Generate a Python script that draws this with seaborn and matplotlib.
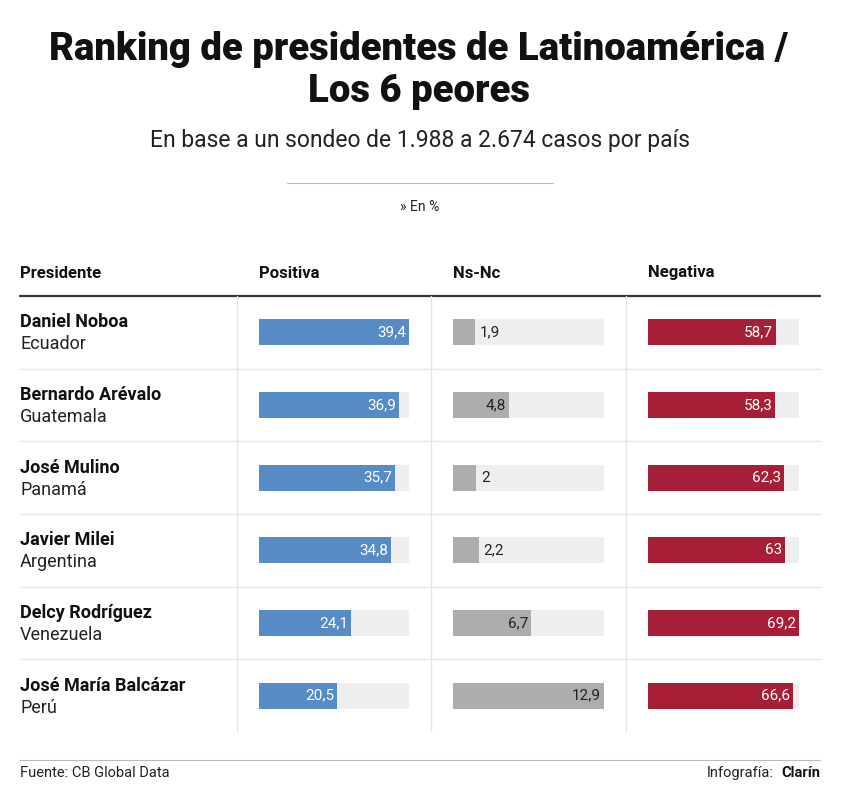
import matplotlib
matplotlib.use("Agg")
import matplotlib.pyplot as plt
import seaborn as sns
import pandas as pd
from matplotlib.lines import Line2D

presidentes = ["Daniel Noboa", "Bernardo Arévalo", "José Mulino", "Javier Milei",
               "Delcy Rodríguez", "José María Balcázar"]
paises = ["Ecuador", "Guatemala", "Panamá", "Argentina", "Venezuela", "Perú"]
positiva = [39.4, 36.9, 35.7, 34.8, 24.1, 20.5]
nsnc = [1.9, 4.8, 2.0, 2.2, 6.7, 12.9]
negativa = [58.7, 58.3, 62.3, 63.0, 69.2, 66.6]
columnas = ["Positiva", "Ns-Nc", "Negativa"]

sns.set_theme(style="white")
plt.rcParams['font.family'] = ['Roboto', 'DejaVu Sans']

W, H = 846, 802
fig = plt.figure(figsize=(W / 100, H / 100), dpi=100)
fig.patch.set_facecolor("white")

def fx(x): return x / W
def fy(y): return 1 - y / H

# titles
fig.text(fx(419), fy(50), "Ranking de presidentes de Latinoamérica /", ha="center", va="center",
         fontsize=27.5, fontweight="black", color="#111111")
fig.text(fx(419), fy(92), "Los 6 peores", ha="center", va="center",
         fontsize=27.5, fontweight="black", color="#111111")
fig.text(fx(420), fy(141), "En base a un sondeo de 1.988 a 2.674 casos por país", ha="center",
         va="center", fontsize=16.5, color="#222222")
fig.add_artist(Line2D([fx(287), fx(553)], [fy(183), fy(183)], color="#bbbbbb", lw=0.8))
fig.text(fx(420), fy(207), "» En %", ha="center", va="center", fontsize=10, color="#222222")

# headers
for x, t in [(20, "Presidente"), (259, "Positiva"), (453, "Ns-Nc"), (648, "Negativa")]:
    fig.text(fx(x), fy(273), t, ha="left", va="center", fontsize=12, fontweight="bold", color="#111111")
fig.add_artist(Line2D([fx(20), fx(820)], [fy(296), fy(296)], color="#333333", lw=1.6))

top, bot = 296, 732
rowh = (bot - top) / 6
for i in range(1, 6):
    y = top + i * rowh
    fig.add_artist(Line2D([fx(20), fx(820)], [fy(y), fy(y)], color="#e6e6e6", lw=1))
for x in [237, 431, 626]:
    fig.add_artist(Line2D([fx(x), fx(x)], [fy(top), fy(bot)], color="#e6e6e6", lw=1))

for i, (p, c) in enumerate(zip(presidentes, paises)):
    yc = top + (i + 0.5) * rowh
    fig.text(fx(20), fy(yc - 10), p, ha="left", va="center", fontsize=13, fontweight="bold", color="#111111")
    fig.text(fx(20), fy(yc + 12), c, ha="left", va="center", fontsize=13, color="#222222")

specs = [(259, 409, positiva, "#578bc4", "white"),
         (453, 604, nsnc, "#adadad", "#222222"),
         (648, 799, negativa, "#a61f37", "white")]
for (x0, x1, vals, col, tcol), name in zip(specs, columnas):
    ax = fig.add_axes([fx(x0), fy(bot), fx(x1) - fx(x0), (bot - top) / H])
    mx = max(vals)
    df = pd.DataFrame({"p": presidentes, "v": vals, "t": [mx] * 6})
    sns.barplot(data=df, x="t", y="p", color="#eeeeee", width=26 / rowh, ax=ax, saturation=1, linewidth=0)
    sns.barplot(data=df, x="v", y="p", color=col, width=26 / rowh, ax=ax, saturation=1, linewidth=0)
    ax.set_xlim(0, mx)
    ax.set_ylim(5.5, -0.5)
    ax.axis("off")
    for i, v in enumerate(vals):
        lab = f"{v:g}".replace(".", ",")
        if name == "Ns-Nc" and v < 3:
            ax.text(v + mx * 0.03, i, lab, ha="left", va="center", fontsize=11, color="#222222")
        else:
            ax.text(v - mx * 0.02, i, lab, ha="right", va="center", fontsize=11, color=tcol)

fig.add_artist(Line2D([fx(20), fx(820)], [fy(760), fy(760)], color="#bbbbbb", lw=0.8))
fig.text(fx(20), fy(773), "Fuente: CB Global Data", ha="left", va="center", fontsize=10.5, color="#222222")
fig.text(fx(774), fy(773), "Infografía:", ha="right", va="center", fontsize=10.5, color="#222222")
fig.text(fx(820), fy(773), "Clarín", ha="right", va="center", fontsize=10.5, fontweight="bold", color="#111111")

fig.savefig("out.png", dpi=100, facecolor="white")
